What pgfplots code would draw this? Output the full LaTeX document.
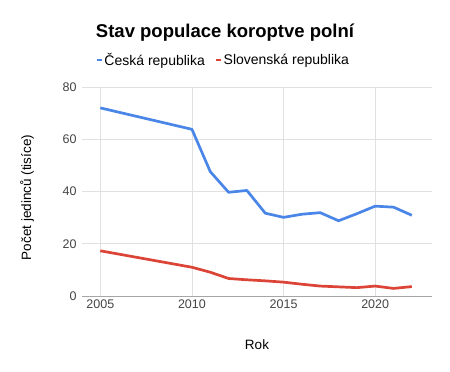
\documentclass[border=0pt]{standalone}
\usepackage{pgfplots}
\pgfplotsset{compat=1.18}
\usepackage{fontspec}
\setmainfont{Liberation Sans}
\definecolor{gblue}{HTML}{4A86E8}
\definecolor{gred}{HTML}{DB4437}
\definecolor{ggrid}{HTML}{E0E0E0}
\definecolor{gtick}{HTML}{444444}
\begin{document}
\begin{tikzpicture}[x=1pt,y=1pt]
\useasboundingbox (0,0) rectangle (450,372);
\begin{axis}[
  at={(82pt,76pt)}, anchor=south west,
  scale only axis, width=350pt, height=209pt,
  xmin=2004, xmax=2023.1, ymin=0, ymax=80,
  xtick={2005,2010,2015,2020}, ytick={0,20,40,60,80},
  xticklabel style={/pgf/number format/.cd,1000 sep={}},
  /pgf/number format/assume math mode=true,
  tick label style={font=\fontsize{12.5}{14}\selectfont, text=gtick},
  grid=major, major grid style={ggrid, line width=0.8pt},
  axis x line*=bottom, axis y line*=left,
  x axis line style={draw=gray!70, line width=0.8pt, -},
  y axis line style={draw=none},
  tick style={draw=none},
  xlabel={Rok}, ylabel={Počet jedinců (tisíce)},
  every axis x label/.style={at={(axis description cs:0.5,0)}, anchor=center, yshift=-49pt, font=\fontsize{13.5}{15}\selectfont},
  every axis y label/.style={at={(axis description cs:0,0.5)}, rotate=90, anchor=center, yshift=55pt, xshift=-6pt, font=\fontsize{13.5}{15}\selectfont},
  yticklabel style={xshift=-2pt},
  legend columns=2,
  legend style={draw=none, fill=none, font=\fontsize{14}{16}\selectfont,
    at={(axis description cs:0.03,1.13)}, anchor=west,
    /tikz/every even column/.append style={column sep=8pt}},
  legend image code/.code={\draw[#1, line width=1.8pt] (0pt,0pt) -- (5pt,0pt);},
]
\addplot[gblue, line width=2.7pt, line join=round] coordinates {
(2005,72.0) (2010,63.8) (2011,47.6) (2012,39.7) (2013,40.4) (2014,31.7) (2015,30.1) (2016,31.3) (2017,31.9) (2018,28.8) (2019,31.5) (2020,34.4) (2021,34.0) (2022,30.9)};
\addlegendentry{Česká republika}
\addplot[gred, line width=2.7pt, line join=round] coordinates {
(2005,17.3) (2010,11.0) (2011,9.1) (2012,6.7) (2013,6.2) (2014,5.8) (2015,5.3) (2016,4.5) (2017,3.8) (2018,3.5) (2019,3.2) (2020,3.8) (2021,2.9) (2022,3.6)};
\addlegendentry{Slovenská republika}
\end{axis}
\node[font=\bfseries\fontsize{18.5}{21}\selectfont, anchor=center] at (225,339) {Stav populace koroptve polní};
\end{tikzpicture}
\end{document}
